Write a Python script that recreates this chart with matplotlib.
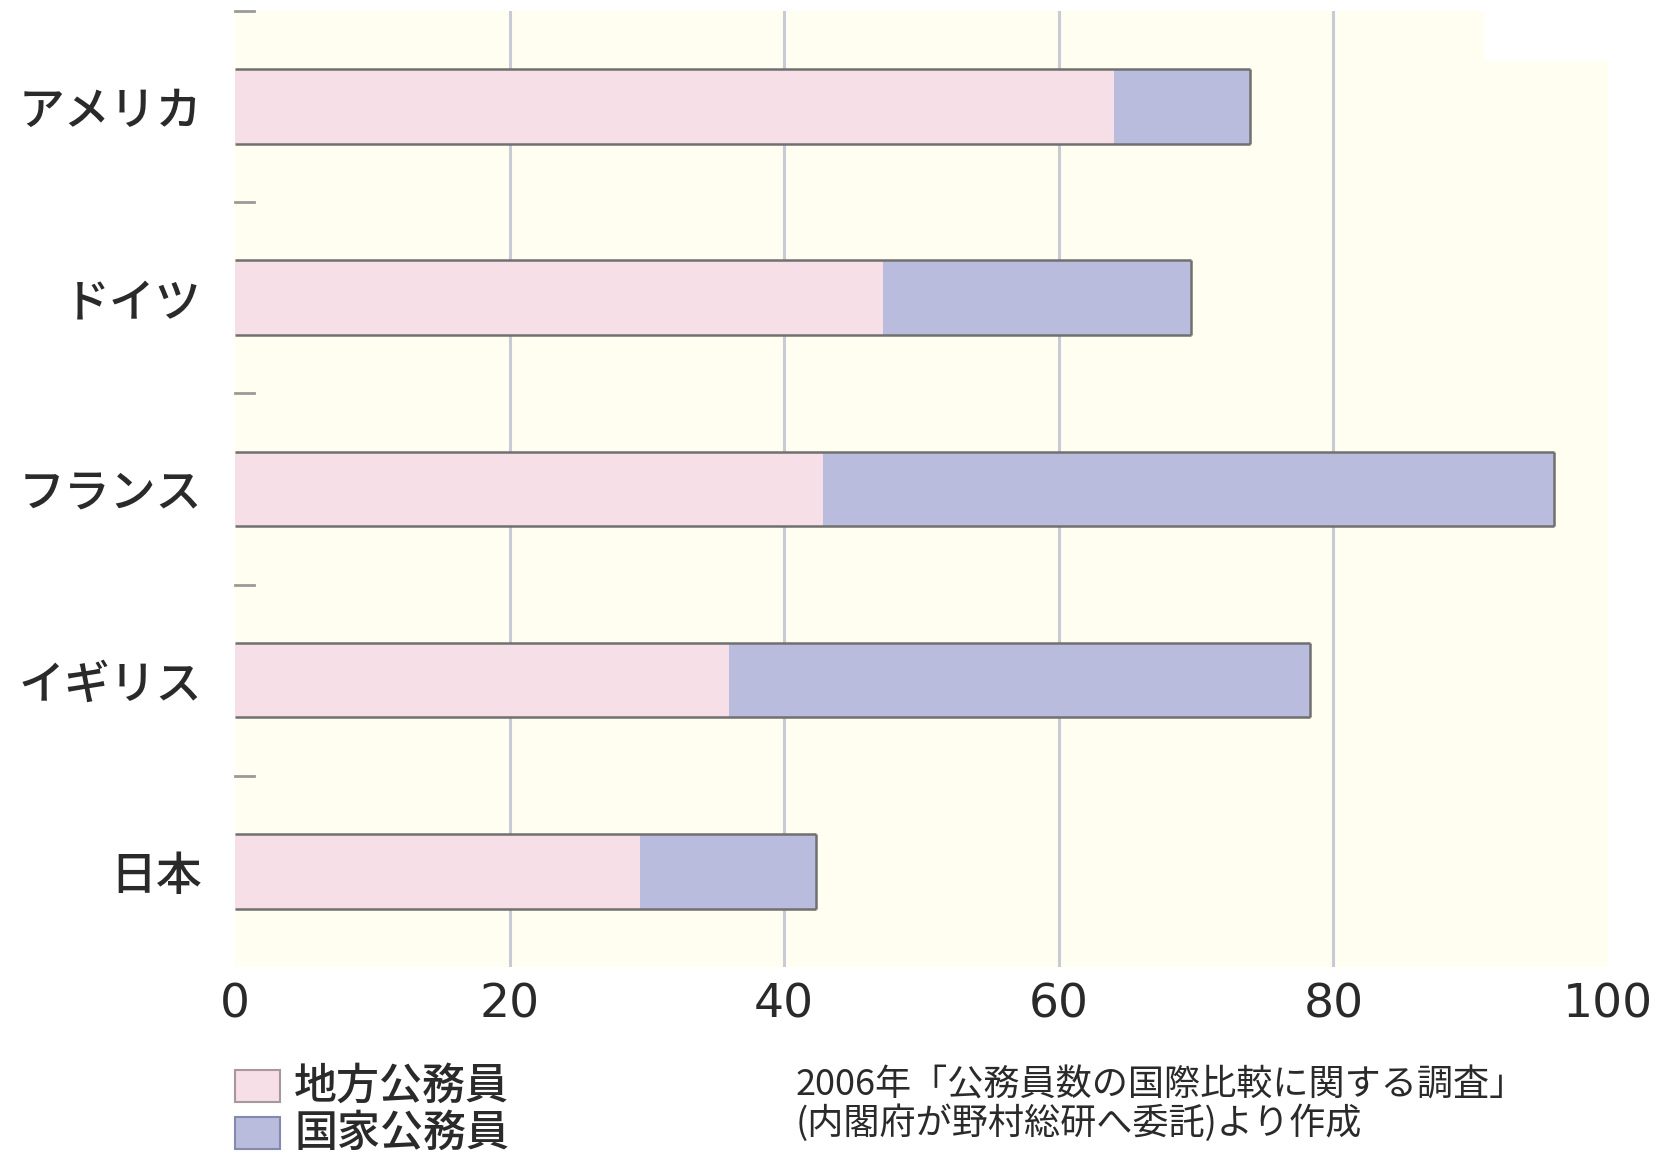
import matplotlib
matplotlib.use("Agg")
import matplotlib.pyplot as plt
from matplotlib.patches import Rectangle

plt.rcParams['font.family'] = ['Noto Sans CJK JP', 'DejaVu Sans']

countries = ['アメリカ', 'ドイツ', 'フランス', 'イギリス', '日本']
local_staff = [64.0, 47.2, 42.8, 36.0, 29.5]      # 地方公務員
national_staff = [9.9, 22.4, 53.3, 42.3, 12.8]    # 国家公務員
x_ticks = [0, 20, 40, 60, 80, 100]
legend_labels = ['地方公務員', '国家公務員']
source_note = ['2006年「公務員数の国際比較に関する調査」', '(内閣府が野村総研へ委託)より作成']

pink = '#F6DFE6'
blue = '#B9BCDD'
bg = '#FFFEF1'
edge = '#707070'
txt = '#2a2a2a'

fig = plt.figure(figsize=(16.76, 11.58), dpi=100)
ax = fig.add_axes([0.1402, 0.165, 0.8192, 0.8255])
ax.set_facecolor(bg)

ypos = list(range(len(countries)))
totals = [a + b for a, b in zip(local_staff, national_staff)]
h = 0.39

ax.barh(ypos, local_staff, height=h, color=pink, zorder=3)
ax.barh(ypos, national_staff, left=local_staff, height=h, color=blue, zorder=3)
# outline: top, bottom and right side only
ax.hlines([y - h / 2 for y in ypos], 0, totals, color=edge, lw=1.8, zorder=4)
ax.hlines([y + h / 2 for y in ypos], 0, totals, color=edge, lw=1.8, zorder=4)
ax.vlines(totals, [y - h / 2 for y in ypos], [y + h / 2 for y in ypos], color=edge, lw=1.8, zorder=4)

ax.set_xlim(0, 100)
ax.set_ylim(len(countries) - 0.5, -0.5)

for xv in x_ticks[1:-1]:
    ax.axvline(xv, color='#C9CBD4', lw=2.2, zorder=1)

# small separator marks between categories
for yv in [y - 0.5 for y in ypos]:
    ax.plot([0, 1.4], [yv, yv], color='#9a9a9a', lw=2, zorder=2, clip_on=False)

# white notch at the top right corner
ax.add_patch(Rectangle((91.0, -0.5), 10, 0.26, facecolor='white', edgecolor='none', zorder=2, clip_on=False))

for s in ax.spines.values():
    s.set_visible(False)

ax.set_yticks(ypos)
ax.set_yticklabels(countries, fontsize=33, color=txt, fontweight='medium')
ax.set_xticks(x_ticks)
ax.set_xticklabels([str(v) for v in x_ticks], fontsize=34, color=txt, family='DejaVu Sans')
ax.tick_params(axis='both', length=0)
ax.tick_params(axis='y', pad=24)
ax.tick_params(axis='x', pad=11)

# legend
sq_w, sq_h = 45 / 1676, 32 / 1158
for i, (lab, col, ec) in enumerate(zip(legend_labels, [pink, blue], ['#A8979C', '#8589AE'])):
    yc = 1 - (1086 + i * 47) / 1158
    fig.add_artist(Rectangle((235 / 1676, yc - sq_h / 2), sq_w, sq_h, transform=fig.transFigure,
                             facecolor=col, edgecolor=ec, lw=1.5))
    fig.text(294 / 1676, yc, lab, fontsize=31, color=txt, va='center', ha='left',
             fontweight='medium')

for i, line in enumerate(source_note):
    fig.text(796 / 1676, 1 - (1086 + i * 37) / 1158, line, fontsize=26, color=txt,
             va='center', ha='left')

fig.savefig('out.png', dpi=100, facecolor='white')
